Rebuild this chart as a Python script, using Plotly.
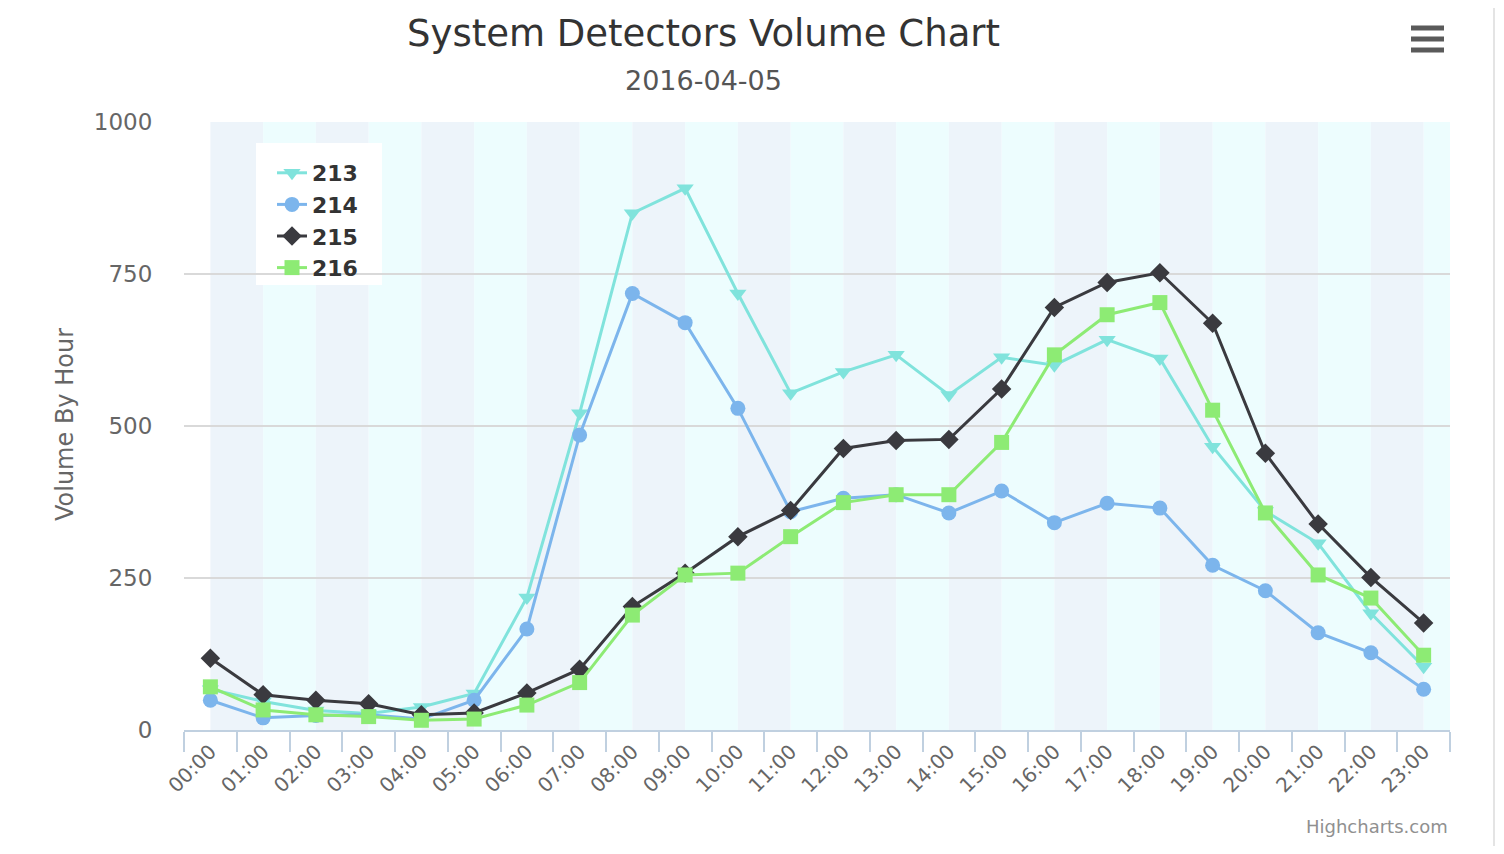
import plotly.graph_objects as go

hours = ["00:00", "01:00", "02:00", "03:00", "04:00", "05:00", "06:00", "07:00",
         "08:00", "09:00", "10:00", "11:00", "12:00", "13:00", "14:00", "15:00",
         "16:00", "17:00", "18:00", "19:00", "20:00", "21:00", "22:00", "23:00"]

s213 = [67, 47, 32, 27, 38, 60, 218, 521, 850, 891, 718, 554, 589, 617, 551, 613,
        600, 642, 611, 466, 360, 307, 192, 104]
s214 = [49, 20, 24, 25, 18, 49, 166, 485, 718, 670, 529, 359, 381, 387, 357, 393,
        341, 373, 365, 271, 229, 160, 127, 67]
s215 = [118, 58, 49, 43, 25, 28, 61, 100, 203, 258, 318, 361, 463, 476, 478, 561,
        695, 736, 752, 669, 455, 339, 251, 176]
s216 = [71, 33, 25, 22, 16, 18, 41, 78, 189, 255, 258, 318, 374, 387, 387, 473,
        617, 683, 703, 526, 357, 255, 217, 123]

series_names = ["213", "214", "215", "216"]
series_values = [s213, s214, s215, s216]
series_colors = ["#80e3dc", "#7cb5ec", "#3a3a3f", "#8deb74"]
series_symbols = ["triangle-down", "circle", "diamond", "square"]
symbol_sizes = [15, 15, 15, 15]

title_text = "System Detectors Volume Chart"
subtitle_text = "2016-04-05"
y_title = "Volume By Hour"
credit_text = "Highcharts.com"

FONT = "DejaVu Sans"

# page has an 8px body margin; figure is sized to fit inside the window
OFF = 8
W, H = 1504 - 2 * OFF, 854 - 2 * OFF
# plot area in page pixels
L, R, T, B = 184, 1450, 122, 730


def px(x):
    return (x - L) / (R - L)


def py(y):
    return (B - y) / (B - T)


fig = go.Figure()
for name, vals, col, sym, sz in zip(series_names, series_values, series_colors,
                                     series_symbols, symbol_sizes):
    fig.add_trace(go.Scatter(
        x=hours, y=vals, name=name, mode="lines+markers",
        line=dict(color=col, width=3),
        marker=dict(symbol=sym, size=sz, color=col),
    ))

shapes = []
band_colors = ["#edf4fa", "#edfdfe"]
for i in range(len(hours)):
    shapes.append(dict(type="rect", xref="x", yref="paper", x0=i, x1=i + 1,
                       y0=0, y1=1, fillcolor=band_colors[i % 2], line=dict(width=0),
                       layer="below"))
# legend background box
shapes.append(dict(type="rect", xref="paper", yref="paper",
                   x0=px(256), x1=px(382), y0=py(285), y1=py(143),
                   fillcolor="white", line=dict(width=0), layer="below"))
# hamburger icon
for yy in [28, 39, 50]:
    shapes.append(dict(type="line", xref="paper", yref="paper",
                       x0=px(1411), x1=px(1444), y0=py(yy), y1=py(yy),
                       line=dict(color="#5a5a5a", width=5)))
# right frame border
shapes.append(dict(type="line", xref="paper", yref="paper",
                   x0=px(1494), x1=px(1494), y0=py(846), y1=py(8),
                   line=dict(color="#e4e4e4", width=2)))

annotations = [
    dict(text=title_text, x=px(703), y=py(33), xref="paper", yref="paper",
         showarrow=False, xanchor="center", yanchor="middle",
         font=dict(family=FONT, size=37, color="#333333")),
    dict(text=subtitle_text, x=px(703), y=py(80), xref="paper", yref="paper",
         showarrow=False, xanchor="center", yanchor="middle",
         font=dict(family=FONT, size=27, color="#555555")),
    dict(text=y_title, x=px(65), y=py(425), xref="paper", yref="paper",
         showarrow=False, textangle=-90, xanchor="center", yanchor="middle",
         font=dict(family=FONT, size=24, color="#666666")),
    dict(text=credit_text, x=1, y=py(826), xref="paper", yref="paper",
         showarrow=False, xanchor="right", yanchor="middle",
         font=dict(family=FONT, size=18, color="#909090")),
]

fig.update_layout(
    width=W, height=H,
    margin=dict(l=L - OFF, r=(W + OFF) - R, t=T - OFF, b=(H + OFF) - B),
    paper_bgcolor="white", plot_bgcolor="white",
    showlegend=True,
    legend=dict(x=px(272), y=py(152), xanchor="left", yanchor="top",
                bgcolor="rgba(255,255,255,0)", borderwidth=0,
                font=dict(family=FONT, size=22, color="#333333", weight="bold"),
                itemwidth=30, tracegroupgap=0),
    shapes=shapes, annotations=annotations,
    hovermode="x",
)
fig.update_xaxes(
    type="category", range=[-0.5, 23.5], tickson="boundaries",
    ticks="outside", ticklen=20, tickwidth=2, tickcolor="#c0d0e0",
    showline=True, linecolor="#c0d0e0", linewidth=2,
    showgrid=False, tickangle=-45,
    tickfont=dict(family=FONT, size=20, color="#666666"),
)
fig.update_yaxes(
    range=[0, 1000], tickvals=[0, 250, 500, 750, 1000],
    showgrid=True, gridcolor="#d9d9d9", gridwidth=2, zeroline=False,
    showline=False, ticks="outside", ticklen=26, tickcolor="rgba(0,0,0,0)",
    tickfont=dict(family=FONT, size=23, color="#666666"),
)

fig.write_html("out.html")
